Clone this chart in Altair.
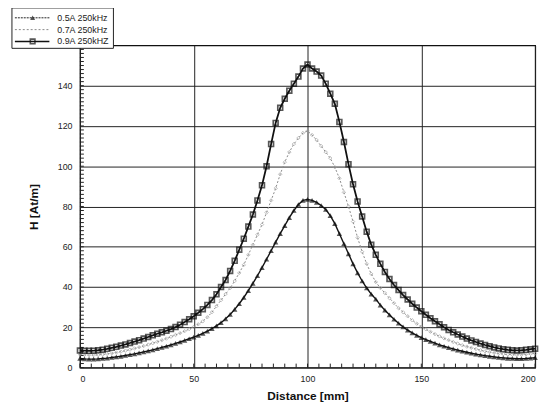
import altair as alt
import pandas as pd

# ---- data ----
distance = list(range(0, 201, 2))

h_05A = [4.5, 4.3, 4.2, 4.2, 4.3, 4.5, 4.7, 5.0, 5.3, 5.6,
         6.0, 6.4, 6.8, 7.3, 7.8, 8.3, 8.8, 9.4, 10.0, 10.6,
         11.3, 12.0, 12.7, 13.5, 14.3, 15.1, 16.0, 17.0, 18.1, 19.3,
         20.7, 22.3, 24.2, 26.4, 28.9, 31.7, 34.8, 38.2, 41.8, 45.6,
         49.6, 53.8, 58.0, 62.3, 66.5, 70.5, 74.5, 78.0, 81.0, 83.0,
         83.5, 83.0, 82.0, 80.5, 78.5, 75.5, 71.5, 66.5, 61.5, 56.5,
         51.5, 47.0, 43.0, 39.5, 36.5, 34.0, 31.0, 28.5, 26.2, 24.0,
         22.0, 20.2, 18.6, 17.2, 16.0, 14.9, 13.9, 13.0, 12.1, 11.3,
         10.6, 9.9, 9.3, 8.7, 8.1, 7.6, 7.1, 6.7, 6.3, 5.9,
         5.6, 5.3, 5.0, 4.8, 4.6, 4.5, 4.4, 4.4, 4.5, 4.7,
         4.9]

h_07A = [6.5, 6.3, 6.2, 6.2, 6.3, 6.5, 6.8, 7.1, 7.5, 7.9,
         8.4, 8.9, 9.5, 10.1, 10.7, 11.4, 12.1, 12.8, 13.6, 14.4,
         15.3, 16.2, 17.1, 18.1, 19.1, 20.2, 21.5, 23.0, 25.0, 27.5,
         30.5, 33.5, 36.5, 39.5, 43.0, 47.0, 51.0, 56.0, 61.0, 66.0,
         71.0, 77.0, 83.0, 89.0, 96.0, 102.0, 107.0, 111.0, 114.0, 116.5,
         117.5, 115.5, 113.0, 110.0, 107.0, 104.0, 99.5, 94.0, 87.0, 80.0,
         72.5, 64.5, 57.5, 51.5, 46.5, 42.5, 39.5, 37.0, 34.5, 32.0,
         29.5, 27.5, 25.5, 23.5, 21.8, 20.3, 19.0, 17.8, 16.6, 15.5,
         14.5, 13.6, 12.7, 11.9, 11.1, 10.4, 9.8, 9.2, 8.6, 8.1,
         7.7, 7.3, 7.0, 6.7, 6.5, 6.4, 6.3, 6.4, 6.6, 6.8,
         7.0]

h_09A = [8.5, 8.4, 8.3, 8.4, 8.6, 8.9, 9.3, 9.8, 10.3, 10.9,
         11.5, 12.2, 12.9, 13.6, 14.4, 15.2, 16.0, 16.8, 17.5, 18.3,
         19.1, 20.1, 21.3, 22.6, 24.0, 25.5, 27.2, 29.0, 31.1, 33.5,
         36.4, 40.0, 43.5, 48.0, 53.0, 58.5, 64.0, 70.0, 76.0, 83.0,
         90.5, 100.0, 111.0, 121.5, 129.0, 133.5, 137.5, 141.0, 144.5, 148.5,
         150.5, 148.5, 147.0, 145.0, 141.0, 136.0, 131.0, 122.0, 112.0, 101.0,
         91.0, 82.5, 75.0, 67.5, 61.0, 56.0, 51.5, 47.5, 44.0, 41.0,
         38.5, 36.0, 33.8, 31.7, 29.8, 28.0, 26.2, 24.5, 23.0, 21.5,
         20.0, 18.7, 17.5, 16.4, 15.4, 14.4, 13.5, 12.7, 11.9, 11.2,
         10.6, 10.0, 9.5, 9.1, 8.8, 8.6, 8.5, 8.6, 8.8, 9.1,
         9.4]

series_labels = ["0.5A 250kHz", "0.7A 250kHz", "0.9A 250kHZ"]
x_ticks = [0, 50, 100, 150, 200]
y_ticks = [0, 20, 40, 60, 80, 100, 120, 140]
x_minor = list(range(0, 201, 5))
y_minor = list(range(0, 161, 2))

W, H = 462, 327
FONT = "Liberation Sans"

df05 = pd.DataFrame({"x": distance, "y": h_05A})
df07 = pd.DataFrame({"x": distance, "y": h_07A})
df09 = pd.DataFrame({"x": distance, "y": h_09A})

xs = alt.Scale(domain=[0, 200], nice=False, zero=False)
ys = alt.Scale(domain=[0, 160], nice=False, zero=False)

x_axis = alt.Axis(
    values=x_ticks, title="Distance [mm]", grid=True, gridColor="#222",
    gridWidth=1, gridOpacity=1, ticks=False, domain=False, labelFont=FONT,
    labelFontSize=9, labelColor="#222", labelPadding=7, titleFont=FONT,
    titleFontSize=12, titleFontWeight="bold", titleColor="#111", titlePadding=7)
y_axis = alt.Axis(
    values=y_ticks, title="H [At/m]", grid=True, gridColor="#222",
    gridWidth=1, gridOpacity=1, ticks=False, domain=False, labelFont=FONT,
    labelFontSize=9, labelColor="#222", labelPadding=8, titleFont=FONT,
    titleFontSize=12, titleFontWeight="bold", titleColor="#111", titlePadding=17)

X = alt.X("x:Q", scale=xs, axis=x_axis)
Y = alt.Y("y:Q", scale=ys, axis=y_axis)

line09 = alt.Chart(df09).mark_line(color="#111", strokeWidth=1.8).encode(x=X, y=Y)
pts09 = alt.Chart(df09).mark_point(shape="square", size=24, filled=False,
                                   color="#111", strokeWidth=1.7).encode(x=X, y=Y)
line07 = alt.Chart(df07).mark_line(color="#888", strokeWidth=1,
                                   strokeDash=[2, 2]).encode(x=X, y=Y)
pts07 = alt.Chart(df07).mark_point(shape="diamond", size=12, filled=False,
                                   color="#999", strokeWidth=0.9).encode(x=X, y=Y)
line05 = alt.Chart(df05).mark_line(color="#111", strokeWidth=1.4).encode(x=X, y=Y)
pts05 = alt.Chart(df05).mark_point(shape="triangle-up", size=30, filled=True,
                                   color="#111").encode(x=X, y=Y)

yminor = alt.Chart(pd.DataFrame({"y": y_minor})).mark_rule(color="#222", strokeWidth=1).encode(
    y=Y, x=alt.value(0), x2=alt.value(4))
xminor = alt.Chart(pd.DataFrame({"x": x_minor})).mark_rule(color="#222", strokeWidth=1).encode(
    x=X, y=alt.value(H), y2=alt.value(H - 4))

one = pd.DataFrame({"a": [0]})
rows = [-28, -16, -4]
leg_box = alt.Chart(one).mark_rect(fill="white", stroke="#222", strokeWidth=1).encode(
    x=alt.value(-69), x2=alt.value(34), y=alt.value(-38), y2=alt.value(3))
leg = [leg_box]
leg.append(alt.Chart(one).mark_rule(color="#222", strokeWidth=1, strokeDash=[2, 1]).encode(
    x=alt.value(-66), x2=alt.value(-31), y=alt.value(rows[0])))
leg.append(alt.Chart(one).mark_point(shape="triangle-up", size=26, filled=True, color="#111").encode(
    x=alt.value(-48), y=alt.value(rows[0])))
leg.append(alt.Chart(one).mark_rule(color="#888", strokeWidth=1, strokeDash=[2, 2]).encode(
    x=alt.value(-66), x2=alt.value(-31), y=alt.value(rows[1])))
leg.append(alt.Chart(one).mark_rule(color="#111", strokeWidth=1.6).encode(
    x=alt.value(-66), x2=alt.value(-31), y=alt.value(rows[2])))
leg.append(alt.Chart(one).mark_point(shape="square", size=22, filled=False, color="#111",
                                     strokeWidth=1.6).encode(x=alt.value(-48), y=alt.value(rows[2])))
for r, lab in zip(rows, series_labels):
    leg.append(alt.Chart(one).mark_text(align="left", baseline="middle", font=FONT,
                                        fontSize=9, color="#222").encode(
        x=alt.value(-23), y=alt.value(r), text=alt.value(lab)))

chart = alt.layer(line09, yminor, xminor, line07, pts07, line05, pts05, pts09, *leg).properties(
    width=W, height=H,
    background="white",
    autosize=alt.AutoSizeParams(type="none"),
    padding={"left": 73, "top": 35, "right": 8, "bottom": 32},
).configure_view(stroke="#111", strokeWidth=1.2)

chart.save("out.html", embed_options={"renderer": "svg", "actions": False})
